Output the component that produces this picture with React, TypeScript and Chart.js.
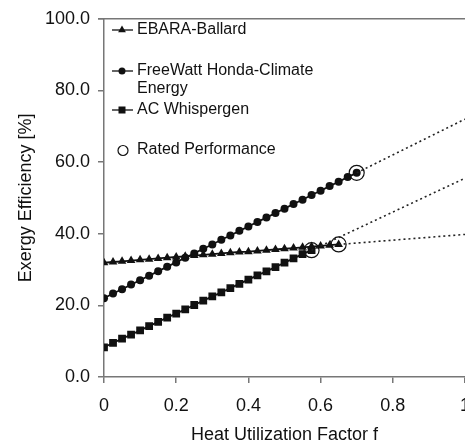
import React, { useEffect, useRef } from "react";
import { Chart, registerables } from "chart.js";

Chart.register(...registerables);

// Heat utilization factor f at each plotted marker
const fGrid = [0, 0.025, 0.05, 0.075, 0.1, 0.125, 0.15, 0.175, 0.2, 0.225, 0.25, 0.275, 0.3, 0.325, 0.35, 0.375, 0.4, 0.425, 0.45, 0.475, 0.5, 0.525, 0.55, 0.575, 0.6, 0.625, 0.65, 0.675, 0.7];

// Exergy efficiency [%] per system
const ebaraBallard = [31.9, 32.1, 32.3, 32.5, 32.7, 32.9, 33.1, 33.3, 33.5, 33.7, 33.9, 34.1, 34.3, 34.5, 34.7, 34.9, 35.0, 35.2, 35.4, 35.6, 35.8, 36.0, 36.2, 36.4, 36.6, 36.8, 37.0];
const freeWatt = [22.0, 23.3, 24.5, 25.8, 27.0, 28.3, 29.5, 30.8, 32.0, 33.3, 34.5, 35.8, 37.0, 38.3, 39.5, 40.8, 42.0, 43.3, 44.5, 45.8, 47.0, 48.3, 49.5, 50.8, 52.0, 53.3, 54.5, 55.8, 57.0];
const whispergen = [8.3, 9.5, 10.7, 11.8, 13.0, 14.2, 15.4, 16.6, 17.7, 18.9, 20.1, 21.3, 22.5, 23.6, 24.8, 26.0, 27.2, 28.4, 29.5, 30.7, 31.9, 33.1, 34.3, 35.4];

// Rated performance points (f, efficiency)
const ratedF = [0.65, 0.7, 0.575];
const ratedEff = [37.0, 57.0, 35.4];

// Dotted extrapolation end values at f = 1
const extEndF = 1;
const extEndEff = [39.8, 72.0, 55.5];

// Axis ticks
const xTicks = [0, 0.2, 0.4, 0.6, 0.8, 1];
const xTickLabels = ["0", "0.2", "0.4", "0.6", "0.8", "1"];
const yTicks = [0, 20, 40, 60, 80, 100];

const seriesNames = ["EBARA-Ballard", "FreeWatt Honda-Climate", "AC Whispergen"];
const legendExtraLine = "Energy";
const ratedName = "Rated Performance";

const FONT = "'Liberation Sans', Arial, Helvetica, sans-serif";
const AXIS_GRAY = "#777777";
const INK = "#111111";

const toPts = (ys: number[]) => ys.map((y, i) => ({ x: fGrid[i], y }));

function drawMarker(ctx: CanvasRenderingContext2D, style: string, x: number, y: number) {
  ctx.beginPath();
  if (style === "triangle") {
    const r = 4.5;
    ctx.moveTo(x, y - r);
    ctx.lineTo(x + r * 0.866, y + r * 0.5);
    ctx.lineTo(x - r * 0.866, y + r * 0.5);
    ctx.closePath();
    ctx.fill();
  } else if (style === "circle") {
    ctx.arc(x, y, 3.5, 0, Math.PI * 2);
    ctx.fill();
  } else if (style === "rect") {
    ctx.fillRect(x - 3.5, y - 3.5, 7, 7);
  }
}

const legendPlugin = {
  id: "customLegend",
  afterDraw(chart: any) {
    const ctx = chart.ctx as CanvasRenderingContext2D;
    const area = chart.chartArea;
    ctx.save();
    // top frame line
    ctx.strokeStyle = AXIS_GRAY;
    ctx.lineWidth = 1.5;
    ctx.beginPath();
    ctx.moveTo(area.left - 6, area.top);
    ctx.lineTo(area.right, area.top);
    ctx.stroke();

    ctx.font = `16px ${FONT}`;
    ctx.textBaseline = "middle";
    ctx.textAlign = "left";
    const symX0 = 112;
    const symX1 = 133;
    const symC = 122;
    const textX = 137;
    const rows = [
      { y: 30, style: "triangle", text: seriesNames[0] },
      { y: 71, style: "circle", text: seriesNames[1] },
      { y: 110, style: "rect", text: seriesNames[2] },
    ];
    rows.forEach((r) => {
      ctx.strokeStyle = INK;
      ctx.fillStyle = INK;
      ctx.lineWidth = 1.3;
      ctx.beginPath();
      ctx.moveTo(symX0, r.y);
      ctx.lineTo(symX1, r.y);
      ctx.stroke();
      drawMarker(ctx, r.style, symC, r.y);
      ctx.fillStyle = INK;
      ctx.fillText(r.text, textX, r.y);
    });
    ctx.fillText(legendExtraLine, textX, 89);
    // rated performance
    ctx.beginPath();
    ctx.lineWidth = 1.2;
    ctx.strokeStyle = INK;
    ctx.arc(123, 150.5, 5, 0, Math.PI * 2);
    ctx.stroke();
    ctx.fillText(ratedName, textX, 150);
    ctx.restore();
  },
};

export default function App() {
  const ref = useRef<HTMLCanvasElement | null>(null);

  useEffect(() => {
    if (!ref.current) return;
    const lineBase = {
      showLine: true,
      borderColor: INK,
      backgroundColor: INK,
      pointBorderColor: INK,
      pointBackgroundColor: INK,
      borderWidth: 1.8,
      pointBorderWidth: 0,
    };
    const dotted = (i: number) => ({
      data: [
        { x: ratedF[i], y: ratedEff[i] },
        { x: extEndF, y: extEndEff[i] },
      ],
      showLine: true,
      borderColor: "#222222",
      borderWidth: 1.6,
      borderDash: [2, 3],
      pointRadius: 0,
    });
    const chart = new Chart(ref.current, {
      type: "scatter",
      data: {
        datasets: [
          dotted(0),
          dotted(1),
          dotted(2),
          { ...lineBase, label: seriesNames[0], data: toPts(ebaraBallard), pointStyle: "triangle", pointRadius: 5 },
          { ...lineBase, label: seriesNames[1], data: toPts(freeWatt), pointStyle: "circle", pointRadius: 4 },
          { ...lineBase, label: seriesNames[2], data: toPts(whispergen), pointStyle: "rect", pointRadius: 5.5 },
          {
            label: ratedName,
            data: ratedF.map((x, i) => ({ x, y: ratedEff[i] })),
            showLine: false,
            pointStyle: "circle",
            pointRadius: 7.5,
            pointBorderWidth: 1.2,
            pointBorderColor: INK,
            pointBackgroundColor: "rgba(0,0,0,0)",
          },
        ],
      },
      options: {
        responsive: false,
        animation: false,
        devicePixelRatio: 1,
        layout: { padding: { top: 15, left: 0, right: 0, bottom: 0 } },
        plugins: { legend: { display: false }, tooltip: { enabled: false } },
        scales: {
          x: {
            type: "linear",
            min: 0,
            max: 1,
            afterBuildTicks: (s: any) => {
              s.ticks = xTicks.map((v) => ({ value: v }));
            },
            afterFit: (s: any) => {
              s.height = 67;
            },
            ticks: {
              callback: (v: any) => {
                const i = xTicks.indexOf(Number(v));
                return i >= 0 ? xTickLabels[i] : "";
              },
              font: { family: FONT, size: 18 },
              color: INK,
              padding: 12,
              maxRotation: 0,
              autoSkip: false,
            },
            grid: { drawOnChartArea: false, drawTicks: true, tickLength: 6, color: AXIS_GRAY, lineWidth: 1.5 },
            border: { display: true, color: AXIS_GRAY, width: 1.5 },
            title: {
              display: true,
              text: "Heat Utilization Factor f",
              font: { family: FONT, size: 18, lineHeight: 1 },
              color: INK,
              padding: { top: 0, bottom: 0 },
            },
          },
          y: {
            type: "linear",
            min: 0,
            max: 100,
            afterBuildTicks: (s: any) => {
              s.ticks = yTicks.map((v) => ({ value: v }));
            },
            afterFit: (s: any) => {
              s.width = 104;
            },
            ticks: {
              callback: (v: any) => Number(v).toFixed(1),
              font: { family: FONT, size: 18 },
              color: INK,
              padding: 8,
            },
            grid: { drawOnChartArea: false, drawTicks: true, tickLength: 6, color: AXIS_GRAY, lineWidth: 1.5 },
            border: { display: true, color: AXIS_GRAY, width: 1.5 },
            title: {
              display: true,
              text: "Exergy Efficiency [%]",
              font: { family: FONT, size: 18, lineHeight: 1 },
              color: INK,
              padding: { top: 17, bottom: 0 },
            },
          },
        },
      },
      plugins: [legendPlugin],
    } as any);
    return () => chart.destroy();
  }, []);

  return (
    <canvas
      ref={ref}
      width={482}
      height={444}
      style={{ position: "fixed", left: 0, top: 0, width: 482, height: 444, background: "#ffffff" }}
    />
  );
}
